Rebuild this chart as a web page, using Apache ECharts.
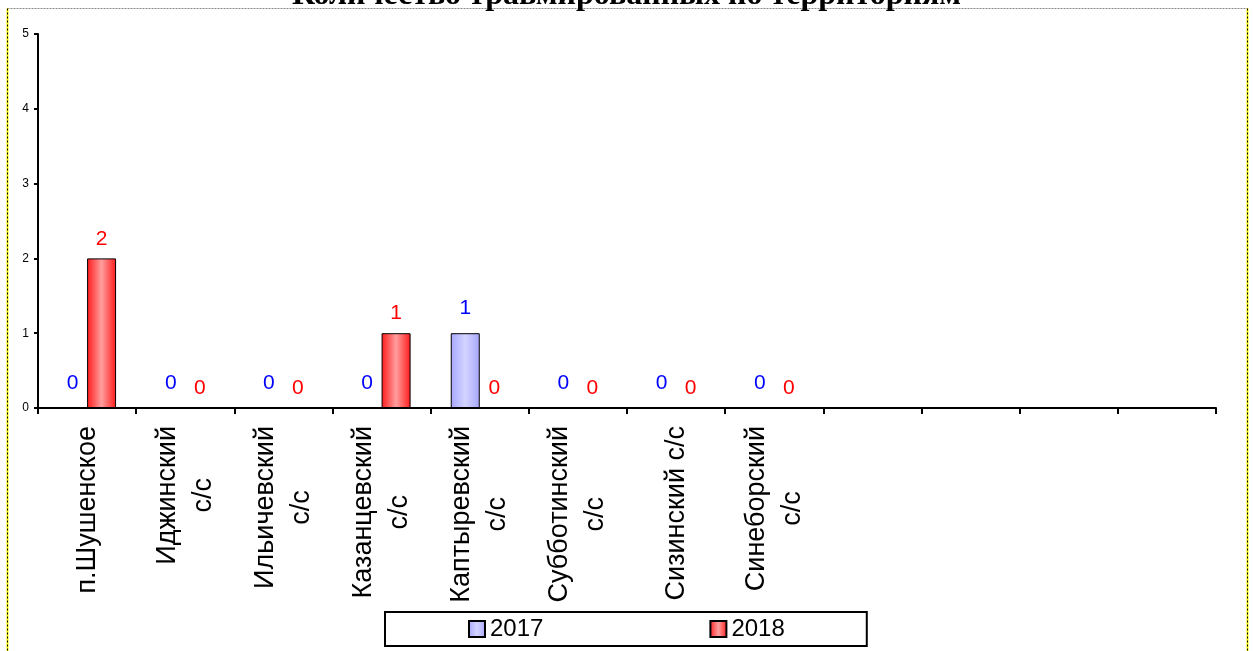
<!DOCTYPE html>
<html>
<head>
<meta charset="utf-8">
<script src="https://cdn.jsdelivr.net/npm/echarts@6/dist/echarts.min.js"></script>
<style>html,body{margin:0;padding:0;background:#fff;}#c{width:1253px;height:651px;}</style>
</head>
<body>
<div id="c"></div>
<script>
const titleText = 'Количество травмированных по территориям';
const categories = ['п.Шушенское', 'Иджинский\nс/с', 'Ильичевский\nс/с', 'Казанцевский\nс/с', 'Каптыревский\nс/с', 'Субботинский\nс/с', 'Сизинский с/с', 'Синеборский\nс/с', '', '', '', ''];
const seriesNames = ['2017', '2018'];
const values2017 = [0, 0, 0, 0, 1, 0, 0, 0, null, null, null, null];
const values2018 = [2, 0, 0, 1, 0, 0, 0, 0, null, null, null, null];
const yTicks = [0, 1, 2, 3, 4, 5];

const chart = echarts.init(document.getElementById('c'));
const F = 'Liberation Sans, Arial, sans-serif';
function grad(edge, mid) {
  return new echarts.graphic.LinearGradient(0, 0, 1, 0, [
    {offset: 0, color: edge}, {offset: 0.5, color: mid}, {offset: 1, color: edge}
  ]);
}
chart.setOption({
  animation: false,
  backgroundColor: '#fff',
  title: {
    text: titleText, left: 'center', top: -25,
    textStyle: {fontFamily: 'Liberation Serif, Times New Roman, serif', fontWeight: 'bold', fontSize: 32, color: '#000'}
  },
  grid: {left: 38, right: 37, top: 34, bottom: 243, containLabel: false},
  legend: {
    data: seriesNames, left: 385, top: 612, icon: 'rect',
    padding: [5, 82, 5, 83], borderColor: '#000', borderWidth: 2,
    itemWidth: 16, itemHeight: 16, itemGap: 166,
    textStyle: {fontFamily: F, fontSize: 24, color: '#000'}
  },
  xAxis: {
    type: 'category', data: categories,
    axisLine: {lineStyle: {color: '#000', width: 2}},
    axisTick: {show: true, length: 6, lineStyle: {color: '#000', width: 2}},
    axisLabel: {
      rotate: 90, margin: 18, interval: 0, color: '#000', fontFamily: F, fontSize: 27, lineHeight: 36,
      formatter: function (v) { return v.split('\n').map(s => '{c|' + s + '}').join('\n'); },
      rich: {c: {align: 'center', fontFamily: F, fontSize: 27, lineHeight: 36, color: '#000'}}
    }
  },
  yAxis: {
    type: 'value', min: yTicks[0], max: yTicks[yTicks.length - 1], interval: 1,
    splitLine: {show: false},
    axisLine: {show: true, lineStyle: {color: '#000', width: 2}},
    axisTick: {show: true, length: 4, lineStyle: {color: '#000', width: 2}},
    axisLabel: {margin: 9, color: '#000', fontFamily: F, fontSize: 12}
  },
  series: [
    {
      name: seriesNames[0], type: 'bar', data: values2017, barWidth: 29, barGap: '0%',
      itemStyle: {color: grad('#a6a6ff', '#d4d4ff'), borderColor: '#000', borderWidth: 1},
      label: {show: true, position: 'top', distance: 14, color: '#0000ff', fontFamily: F, fontSize: 21}
    },
    {
      name: seriesNames[1], type: 'bar', data: values2018, barWidth: 29, barGap: '0%',
      itemStyle: {color: grad('#ff1a1a', '#ff9e9e'), borderColor: '#000', borderWidth: 1},
      label: {show: true, position: 'top', distance: 9, color: '#ff0000', fontFamily: F, fontSize: 21}
    }
  ],
  graphic: [
    {type: 'line', z: -1, shape: {x1: 7.5, y1: 8.5, x2: 1247.5, y2: 8.5}, style: {stroke: '#888', lineWidth: 1, lineDash: [2, 1]}},
    {type: 'line', z: -1, shape: {x1: 7.5, y1: 8.5, x2: 7.5, y2: 651}, style: {stroke: '#ffff00', lineWidth: 2}},
    {type: 'line', z: -1, shape: {x1: 7.5, y1: 8.5, x2: 7.5, y2: 651}, style: {stroke: '#000', lineWidth: 1, lineDash: [2, 2]}},
    {type: 'line', z: -1, shape: {x1: 1247.5, y1: 8.5, x2: 1247.5, y2: 651}, style: {stroke: '#ffff00', lineWidth: 2}},
    {type: 'line', z: -1, shape: {x1: 1247.5, y1: 8.5, x2: 1247.5, y2: 651}, style: {stroke: '#000', lineWidth: 1, lineDash: [2, 2]}}
  ]
});
</script>
</body>
</html>
